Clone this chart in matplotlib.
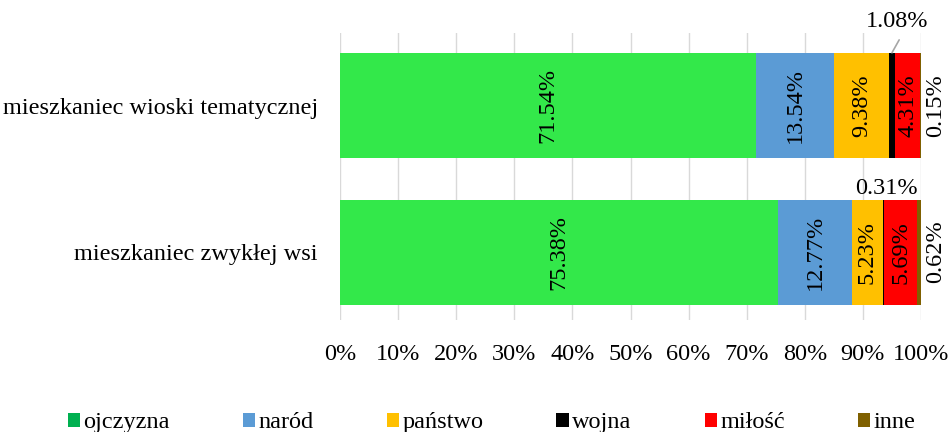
import numpy as np
import matplotlib.pyplot as plt
from matplotlib.patches import Patch

plt.rcParams['font.family'] = ['Liberation Serif', 'DejaVu Serif']

# --------------------------------------------------------------------------------/
categories = ['mieszkaniec zwykłej wsi', 'mieszkaniec wioski tematycznej']
series = ['ojczyzna', 'naród', 'państwo', 'wojna', 'miłość', 'inne']
values = {
    'ojczyzna': [75.38, 71.54],
    'naród':    [12.77, 13.54],
    'państwo':  [5.23, 9.38],
    'wojna':    [0.31, 1.08],
    'miłość':   [5.69, 4.31],
    'inne':     [0.62, 0.15],
}
ticks = np.arange(0, 101, 10)
tick_labels = ['%d%%' % t for t in ticks]

bar_colors = ['#33E84A', '#5B9BD5', '#FFC000', '#000000', '#FF0000', '#7F6000']
legend_colors = ['#00B050', '#5B9BD5', '#FFC000', '#000000', '#FF0000', '#7F6000']
fs = 17.5
# --------------------------------------------------------------------------------/
fig = plt.figure(figsize=(9.49, 4.32), dpi=100)
axe = fig.add_axes([0.3583, 0.259, 0.6122, 0.6646])

y = np.arange(len(categories))
left = np.zeros(len(categories))
for name, col in zip(series, bar_colors):
    v = np.array(values[name])
    axe.barh(y, v, left=left, height=0.717, color=col, zorder=3)
    for i in range(len(categories)):
        cx = left[i] + v[i] / 2
        if name in ('ojczyzna', 'naród', 'państwo', 'miłość'):
            axe.text(cx, y[i], '%.2f%%' % v[i], rotation=90, ha='center', va='center',
                     fontsize=fs, zorder=4)
        elif name == 'wojna':
            if i == 1:
                axe.annotate('%.2f%%' % v[i], xy=(cx, y[i] + 0.36), xytext=(cx + 0.9, y[i] + 0.50),
                             ha='center', va='bottom', fontsize=fs,
                             arrowprops=dict(arrowstyle='-', color='#A6A6A6', lw=1.2,
                                             relpos=(0.6, 0), shrinkA=4, shrinkB=0))
            else:
                axe.text(cx + 0.5, y[i] + 0.36, '%.2f%%' % v[i], ha='center', va='bottom',
                         fontsize=fs)
        else:
            axe.text(102.6, y[i], '%.2f%%' % v[i], rotation=90, ha='center', va='center',
                     fontsize=fs)
    left += v

axe.set_xlim(0, 100)
axe.set_ylim(-0.464, 1.495)
axe.set_xticks(ticks)
axe.set_xticklabels(tick_labels, fontsize=fs)
axe.set_yticks(y)
axe.set_yticklabels(categories, fontsize=fs)
axe.tick_params(length=0, pad=17)
axe.tick_params(axis='y', pad=16)
axe.grid(axis='x', color='#D9D9D9', lw=1, zorder=0)
for s in axe.spines.values():
    s.set_visible(False)

handles = [Patch(facecolor=c, edgecolor='none') for c in legend_colors]
fig.legend(handles, series, loc='center', bbox_to_anchor=(0.518, 0.021), ncol=6,
           frameon=False, fontsize=fs, handlelength=0.5, handleheight=0.5,
           handletextpad=0.15, columnspacing=3.0)

fig.savefig('out.png', dpi=100)
# --------------------------------------------------------------------------------/
# eof
# --------------------------------------------------------------------------------/
